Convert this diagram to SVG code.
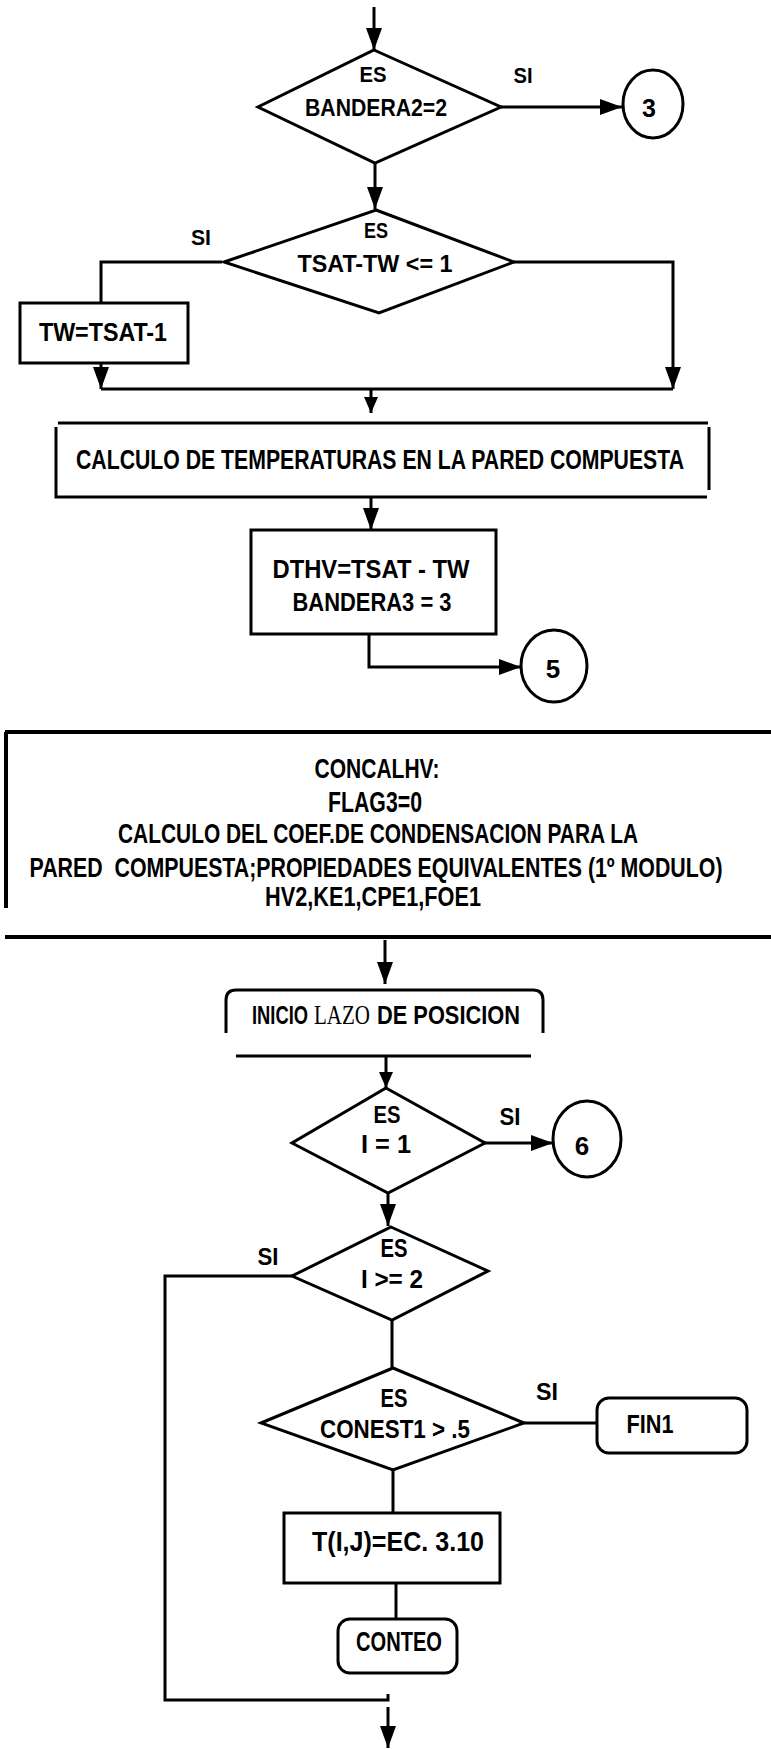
<svg xmlns="http://www.w3.org/2000/svg" width="771" height="1749" viewBox="0 0 771 1749">
<style>
.s{fill:none;stroke:#000;stroke-width:3;stroke-linejoin:miter}
.t{font-family:"Liberation Sans",Arial,sans-serif;font-weight:bold;fill:#000;text-anchor:middle}
.st{text-anchor:start}
.lz{font-family:"Liberation Serif","Times New Roman",serif;font-weight:normal;fill:#000;text-anchor:start}
</style>
<defs>
<marker id="ah" markerUnits="userSpaceOnUse" markerWidth="24" markerHeight="16" refX="22" refY="8" orient="auto">
<path d="M0,0 L22,8 L0,16 z" fill="#000"/>
</marker>
<marker id="as" markerUnits="userSpaceOnUse" markerWidth="18" markerHeight="14" refX="16" refY="7" orient="auto">
<path d="M0,0 L16,7 L0,14 z" fill="#000"/>
</marker>
</defs>
<rect width="771" height="1749" fill="#fff"/>

<g id="connectors" class="s">
<path d="M374,7 V50" marker-end="url(#ah)"/>
<path d="M501,107 H622" marker-end="url(#ah)"/>
<path d="M375,163 V209" marker-end="url(#ah)"/>
<path d="M222,262 H101 V303"/>
<path d="M514,262 H673 V389" marker-end="url(#ah)"/>
<path d="M101,363 V389" marker-end="url(#ah)"/>
<path d="M101,389 H673"/>
<path d="M371,389 V413" marker-end="url(#as)"/>
<path d="M371,497 V530" marker-end="url(#ah)"/>
<path d="M369,634 V667 H521" marker-end="url(#ah)"/>
<path d="M385,940 V984" marker-end="url(#ah)"/>
<path d="M386,1056 V1088" marker-end="url(#as)"/>
<path d="M484,1143 H553" marker-end="url(#ah)"/>
<path d="M388,1192 V1226" marker-end="url(#ah)"/>
<path d="M292,1276 H165 V1700 H388 V1694"/>
<path d="M392,1320 V1368"/>
<path d="M524,1423 H597"/>
<path d="M393,1470 V1513"/>
<path d="M396,1583 V1619"/>
<path d="M388,1707 V1748" marker-end="url(#ah)"/>
</g>

<g id="d1">
<polygon class="s" points="374,50 501,107 375,163 258,107"/>
<text class="t" x="373" y="82" font-size="22" textLength="27" lengthAdjust="spacingAndGlyphs">ES</text>
<text class="t" x="376" y="116" font-size="24" textLength="142" lengthAdjust="spacingAndGlyphs">BANDERA2=2</text>
</g>
<g id="lbl1"><text class="t" x="523" y="83" font-size="22" textLength="19" lengthAdjust="spacingAndGlyphs">SI</text></g>
<g id="c3">
<ellipse class="s" cx="653" cy="104" rx="30" ry="34"/>
<text class="t" x="649" y="117" font-size="25">3</text>
</g>

<g id="d2">
<polygon class="s" points="376,210 514,262 379,313 224,262"/>
<text class="t" x="376" y="238" font-size="22" textLength="24" lengthAdjust="spacingAndGlyphs">ES</text>
<text class="t" x="375" y="272" font-size="24" textLength="155" lengthAdjust="spacingAndGlyphs">TSAT-TW &lt;= 1</text>
</g>
<g id="lbl2"><text class="t" x="201" y="245" font-size="22" textLength="20" lengthAdjust="spacingAndGlyphs">SI</text></g>

<g id="tw">
<rect class="s" x="20" y="303" width="168" height="60"/>
<text class="t" x="103" y="341" font-size="25" textLength="128" lengthAdjust="spacingAndGlyphs">TW=TSAT-1</text>
</g>

<g id="calculo">
<path class="s" d="M58,423 H708 M56,427 V497 H707 M709,427 V490"/>
<text class="t" transform="translate(380,469) scale(1,1.33)" font-size="21" textLength="608" lengthAdjust="spacingAndGlyphs">CALCULO DE TEMPERATURAS EN LA PARED COMPUESTA</text>
</g>

<g id="dthv">
<rect class="s" x="251" y="530" width="245" height="104"/>
<text class="t" x="371" y="578" font-size="26" textLength="197" lengthAdjust="spacingAndGlyphs">DTHV=TSAT - TW</text>
<text class="t" x="372" y="611" font-size="26" textLength="159" lengthAdjust="spacingAndGlyphs">BANDERA3 = 3</text>
</g>
<g id="c5">
<ellipse class="s" cx="554" cy="666" rx="33" ry="36"/>
<text class="t" x="553" y="678" font-size="26">5</text>
</g>

<g id="concalhv">
<path class="s" d="M5,732 H771 M6,732 V908 M5,937 H771" style="stroke-width:4"/>
<text class="t" x="377" y="778" font-size="28" textLength="125" lengthAdjust="spacingAndGlyphs">CONCALHV:</text>
<text class="t" x="375" y="812" font-size="29" textLength="94" lengthAdjust="spacingAndGlyphs">FLAG3=0</text>
<text class="t" transform="translate(378,843) scale(1,1.35)" font-size="20.7" textLength="520" lengthAdjust="spacingAndGlyphs">CALCULO DEL COEF.DE CONDENSACION PARA LA</text>
<text class="t" transform="translate(376,877) scale(1,1.33)" font-size="21" textLength="693" lengthAdjust="spacingAndGlyphs" xml:space="preserve">PARED  COMPUESTA;PROPIEDADES EQUIVALENTES (1º MODULO)</text>
<text class="t" x="373" y="906" font-size="27" textLength="216" lengthAdjust="spacingAndGlyphs">HV2,KE1,CPE1,FOE1</text>
</g>

<g id="inicio">
<path class="s" d="M226,1033 V1000 Q226,990 236,990 H533 Q543,990 543,1000 V1033 M236,1056 H531"/>
<text class="t st" transform="translate(252,1024) scale(1,1.37)" font-size="18.3" textLength="56" lengthAdjust="spacingAndGlyphs">INICIO</text>
<text class="lz" transform="translate(314,1024) scale(1,1.3)" font-size="21" textLength="56" lengthAdjust="spacingAndGlyphs">LAZO</text>
<text class="t st" transform="translate(377,1024) scale(1,1.15)" font-size="21.8" textLength="143" lengthAdjust="spacingAndGlyphs">DE POSICION</text>
</g>

<g id="d3">
<polygon class="s" points="386,1088 485,1143 388,1193 292,1143"/>
<text class="t" x="387" y="1123" font-size="23" textLength="27" lengthAdjust="spacingAndGlyphs">ES</text>
<text class="t" x="386" y="1153" font-size="25" textLength="50" lengthAdjust="spacingAndGlyphs">I = 1</text>
</g>
<g id="lbl3"><text class="t" x="510" y="1125" font-size="23" textLength="21" lengthAdjust="spacingAndGlyphs">SI</text></g>
<g id="c6">
<ellipse class="s" cx="587" cy="1139" rx="34" ry="38"/>
<text class="t" x="582" y="1155" font-size="26">6</text>
</g>

<g id="d4">
<polygon class="s" points="391,1227 488,1271 392,1320 292,1276"/>
<text class="t" x="394" y="1257" font-size="25" textLength="27" lengthAdjust="spacingAndGlyphs">ES</text>
<text class="t" x="392" y="1288" font-size="25" textLength="62" lengthAdjust="spacingAndGlyphs">I &gt;= 2</text>
</g>
<g id="lbl4"><text class="t" x="268" y="1265" font-size="23" textLength="21" lengthAdjust="spacingAndGlyphs">SI</text></g>

<g id="d5">
<polygon class="s" points="393,1368 524,1423 393,1470 261,1423"/>
<text class="t" x="394" y="1407" font-size="25" textLength="27" lengthAdjust="spacingAndGlyphs">ES</text>
<text class="t" x="395" y="1438" font-size="26" textLength="150" lengthAdjust="spacingAndGlyphs">CONEST1 &gt; .5</text>
</g>
<g id="lbl5"><text class="t" x="547" y="1400" font-size="23" textLength="22" lengthAdjust="spacingAndGlyphs">SI</text></g>

<g id="fin1">
<rect class="s" x="597" y="1398" width="150" height="55" rx="12"/>
<text class="t" x="650" y="1433" font-size="26" textLength="47" lengthAdjust="spacingAndGlyphs">FIN1</text>
</g>

<g id="tij">
<rect class="s" x="284" y="1513" width="216" height="70"/>
<text class="t" x="398" y="1551" font-size="28" textLength="172" lengthAdjust="spacingAndGlyphs">T(I,J)=EC. 3.10</text>
</g>

<g id="conteo">
<rect class="s" x="338" y="1619" width="119" height="54" rx="12"/>
<text class="t" x="399" y="1651" font-size="27" textLength="86" lengthAdjust="spacingAndGlyphs">CONTEO</text>
</g>
</svg>
